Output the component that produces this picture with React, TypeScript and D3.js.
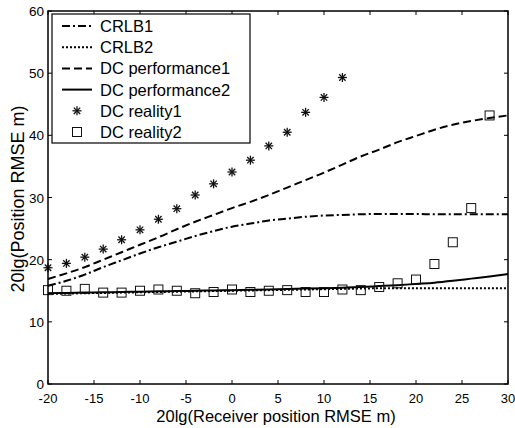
import React from "react";
import * as d3 from "d3";

const xs2 = d3.range(-20, 31, 2);
const reality1X = [-20, -18, -16, -14, -12, -10, -8, -6, -4, -2, 0, 2, 4, 6, 8, 10, 12];
const reality1Y = [18.7, 19.4, 20.4, 21.7, 23.2, 24.8, 26.5, 28.2, 30.4, 32.2, 34.1, 36.0, 38.3, 40.5, 43.7, 46.1, 49.3];
const reality2X = [-20, -18, -16, -14, -12, -10, -8, -6, -4, -2, 0, 2, 4, 6, 8, 10, 12, 14, 16, 18, 20, 22, 24, 26, 28];
const reality2Y = [15.1, 15.0, 15.3, 14.7, 14.7, 15.0, 15.2, 15.0, 14.6, 14.8, 15.2, 14.8, 15.0, 15.1, 14.8, 14.8, 15.2, 15.1, 15.6, 16.2, 16.8, 19.3, 22.8, 28.3, 43.2];
const perf1Y = [16.9, 17.8, 18.8, 20.0, 21.2, 22.4, 23.6, 24.9, 26.1, 27.2, 28.3, 29.3, 30.4, 31.6, 32.8, 34.0, 35.3, 36.6, 37.7, 38.9, 39.9, 40.9, 41.7, 42.3, 42.8, 43.2];
const crlb1Y = [15.8, 16.6, 17.6, 18.8, 19.9, 21.0, 22.0, 22.9, 23.8, 24.6, 25.3, 25.8, 26.3, 26.6, 26.9, 27.1, 27.2, 27.3, 27.35, 27.35, 27.35, 27.3, 27.3, 27.3, 27.3, 27.3];
const crlb2Y = [14.5, 14.55, 14.6, 14.65, 14.7, 14.75, 14.8, 14.85, 14.9, 14.95, 15.0, 15.05, 15.1, 15.15, 15.2, 15.25, 15.3, 15.35, 15.4, 15.4, 15.4, 15.4, 15.4, 15.4, 15.4, 15.4];
const perf2Y = [14.6, 14.65, 14.7, 14.75, 14.8, 14.85, 14.9, 14.95, 15.0, 15.05, 15.1, 15.15, 15.2, 15.3, 15.35, 15.4, 15.5, 15.6, 15.75, 15.9, 16.1, 16.3, 16.6, 16.95, 17.3, 17.7];
const xTicks = [-20, -15, -10, -5, 0, 5, 10, 15, 20, 25, 30];
const yTicks = [0, 10, 20, 30, 40, 50, 60];
const legendLabels = ["CRLB1", "CRLB2", "DC performance1", "DC performance2", "DC reality1", "DC reality2"];

const L = 48, R = 508, T = 11, B = 384;
const font = "Arial, 'Liberation Sans', sans-serif";

export default function App() {
  const x = d3.scaleLinear().domain([-20, 30]).range([L, R]);
  const y = d3.scaleLinear().domain([0, 60]).range([B, T]);
  const line = (ys: number[]) =>
    d3.line<number>().x((_, i) => x(xs2[i])).y((v) => y(v)).curve(d3.curveMonotoneX)(ys) || "";

  const lines = [
    { d: line(crlb1Y), dash: "8,3,2,3" },
    { d: line(crlb2Y), dash: "2,2" },
    { d: line(perf1Y), dash: "8,4" },
    { d: line(perf2Y), dash: "" },
  ];

  const star = (cx: number, cy: number, k: string) => {
    const s = 4.5;
    const d = 3.2;
    return (
      <g key={k} stroke="#111" strokeWidth={1.3}>
        <line x1={cx - s} y1={cy} x2={cx + s} y2={cy} />
        <line x1={cx} y1={cy - s} x2={cx} y2={cy + s} />
        <line x1={cx - d} y1={cy - d} x2={cx + d} y2={cy + d} />
        <line x1={cx - d} y1={cy + d} x2={cx + d} y2={cy - d} />
      </g>
    );
  };
  const sq = (cx: number, cy: number, k: string) => (
    <rect key={k} x={cx - 4.5} y={cy - 4.5} width={9} height={9} fill="none" stroke="#111" strokeWidth={1} />
  );

  const legY = (i: number) => 26 + i * 21.2;

  return (
    <svg width={515} height={428} style={{ position: "absolute", left: 0, top: 0, background: "#fff" }} fontFamily={font}>
      <rect x={0} y={0} width={515} height={428} fill="#fff" />
      {xTicks.map((t) => (
        <g key={"xt" + t}>
          <line x1={x(t)} x2={x(t)} y1={B} y2={B - 4} stroke="#000" />
          <line x1={x(t)} x2={x(t)} y1={T} y2={T + 4} stroke="#000" />
          <text x={x(t)} y={403} fontSize={13} textAnchor="middle" fill="#000">{t}</text>
        </g>
      ))}
      {yTicks.map((t) => (
        <g key={"yt" + t}>
          <line x1={L} x2={L + 4} y1={y(t)} y2={y(t)} stroke="#000" />
          <line x1={R} x2={R - 4} y1={y(t)} y2={y(t)} stroke="#000" />
          <text x={44} y={y(t) + 5} fontSize={13.5} textAnchor="end" fill="#000">{t}</text>
        </g>
      ))}
      {lines.map((l, i) => (
        <path key={"l" + i} d={l.d} fill="none" stroke="#000" strokeWidth={2} strokeDasharray={l.dash || undefined} />
      ))}
      {reality1X.map((v, i) => star(x(v), y(reality1Y[i]), "s" + i))}
      {reality2X.map((v, i) => sq(x(v), y(reality2Y[i]), "q" + i))}
      <rect x={L} y={T} width={R - L} height={B - T} fill="none" stroke="#000" strokeWidth={1.5} />
      <rect x={52} y={14} width={198} height={129} fill="#fff" stroke="#000" strokeWidth={1.2} />
      {legendLabels.map((lab, i) => (
        <g key={"lg" + i}>
          {i < 4 ? (
            <line x1={62} x2={92} y1={legY(i)} y2={legY(i)} stroke="#000" strokeWidth={2}
              strokeDasharray={lines[i].dash || undefined} />
          ) : i === 4 ? star(77, legY(i), "ls") : sq(77, legY(i), "lq")}
          <text x={100} y={legY(i) + 6} fontSize={16.5} fill="#000">{lab}</text>
        </g>
      ))}
      <text x={276} y={422} fontSize={16.5} textAnchor="middle" fill="#000">20lg(Receiver position RMSE m)</text>
      <text transform={`translate(24,199) rotate(-90)`} fontSize={18} textAnchor="middle" fill="#000">20lg(Position RMSE m)</text>
    </svg>
  );
}
